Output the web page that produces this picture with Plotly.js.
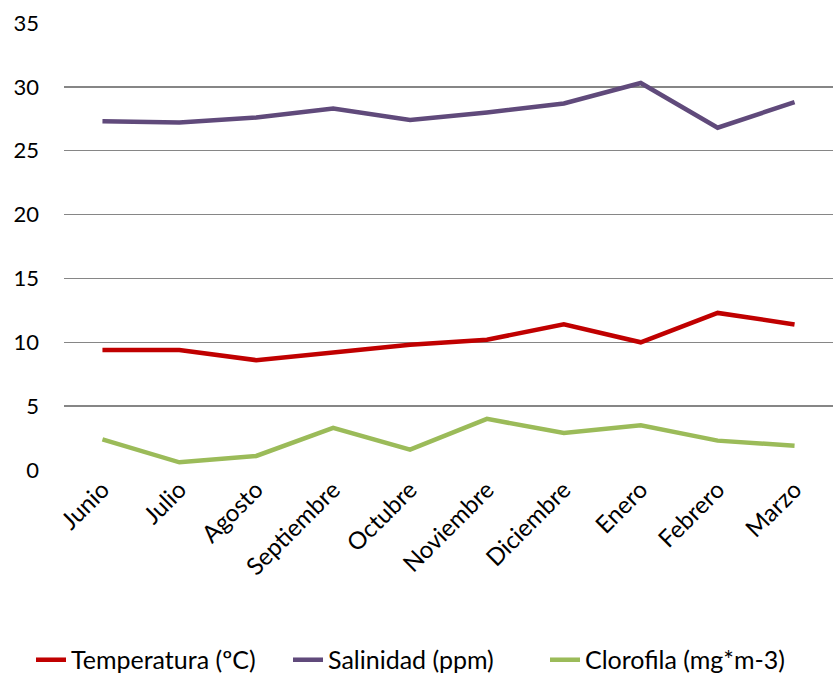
<!DOCTYPE html>
<html>
<head>
<meta charset="utf-8">
<script src="https://cdn.plot.ly/plotly-3.0.1.min.js"></script>
<style>html,body{margin:0;padding:0;background:#fff;}#chart{width:833px;height:673px;}</style>
</head>
<body>
<div id="chart"></div>
<script>
const months = ["Junio","Julio","Agosto","Septiembre","Octubre","Noviembre","Diciembre","Enero","Febrero","Marzo"];
const temperatura = [9.4, 9.4, 8.6, 9.2, 9.8, 10.2, 11.4, 10.0, 12.3, 11.4];
const salinidad = [27.3, 27.2, 27.6, 28.3, 27.4, 28.0, 28.7, 30.3, 26.8, 28.8];
const clorofila = [2.4, 0.6, 1.1, 3.3, 1.6, 4.0, 2.9, 3.5, 2.3, 1.9];
const yTicks = [0, 5, 10, 15, 20, 25, 30, 35];

const font = "Lato, 'Open Sans', sans-serif";
const traces = [
  {x: months, y: temperatura, name: "Temperatura (ºC)", mode: "lines", line: {color: "#C00000", width: 4.5}},
  {x: months, y: salinidad, name: "Salinidad (ppm)", mode: "lines", line: {color: "#604A7B", width: 4.5}},
  {x: months, y: clorofila, name: "Clorofila (mg*m-3)", mode: "lines", line: {color: "#9BBB59", width: 4.5}}
];
const layout = {
  width: 833, height: 673,
  margin: {l: 64, r: 0, t: 23, b: 203, autoexpand: false},
  paper_bgcolor: "#fff", plot_bgcolor: "#fff",
  font: {family: font, size: 22, color: "#000"},
  showlegend: true,
  legend: {orientation: "h", x: 0.5, xanchor: "center", xref: "container", y: -0.425, yanchor: "middle", yref: "paper", font: {size: 25}, traceorder: "normal", itemwidth: 30, entrywidth: 212, entrywidthmode: "pixels"},
  xaxis: {type: "category", range: [-0.5, 9.5], tickangle: -45, showgrid: false, zeroline: false, showline: false, ticks: "", tickfont: {size: 24}, automargin: false, fixedrange: true},
  yaxis: {range: [0, 35], tickvals: yTicks, showgrid: true, gridcolor: "#868686", gridwidth: 1.5, zeroline: false, showline: false, ticks: "", ticklabelstandoff: 24, tickfont: {size: 22}, automargin: false, fixedrange: true}
};
Plotly.newPlot("chart", traces, layout, {displayModeBar: false, staticPlot: true});
</script>
</body>
</html>
